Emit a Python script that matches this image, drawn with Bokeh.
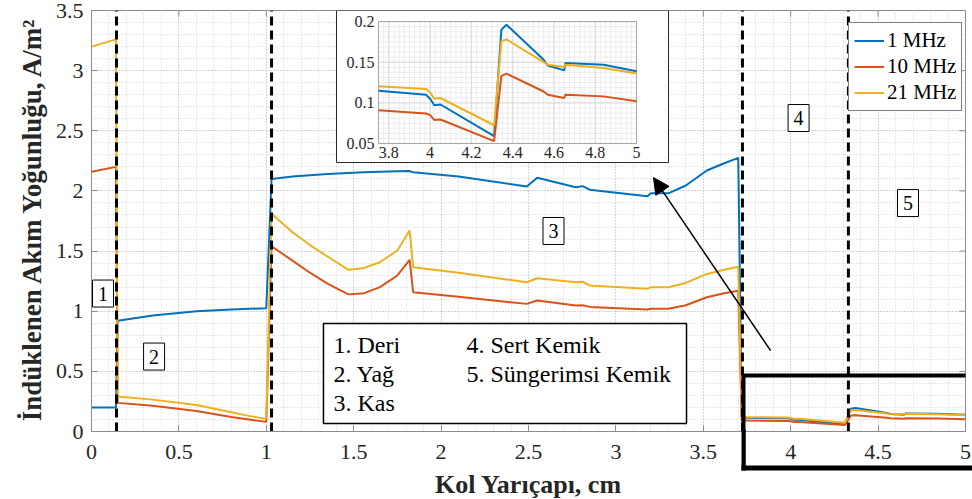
import numpy as np
from bokeh.plotting import figure
from bokeh.models import (Range1d, FixedTicker, Legend, LegendItem, Arrow, NormalHead, Label)
from bokeh.core.properties import value
from bokeh.embed import file_html
from bokeh.resources import INLINE

# ---------------- data ----------------
radius_cm = [0, 0.14, 0.15, 0.35, 0.6, 0.8, 0.9, 1.0, 1.03, 1.15, 1.25, 1.35, 1.47, 1.56,
             1.65, 1.75, 1.82, 1.84, 2.1, 2.49, 2.55, 2.77, 2.81, 2.85, 3.18, 3.2, 3.3,
             3.4, 3.52, 3.62, 3.70, 3.72, 3.75, 3.98, 4.0, 4.02, 4.05, 4.31, 4.345, 4.37,
             4.55, 4.57, 4.65, 4.655, 4.84, 5.0]
j_1mhz = [0.20, 0.20, 0.92, 0.965, 1.0, 1.015, 1.02, 1.025, 2.10, 2.12, 2.13, 2.14, 2.15, 2.155,
          2.16, 2.163, 2.165, 2.155, 2.12, 2.037, 2.11, 2.03, 2.04, 2.01, 1.955, 1.98, 1.98,
          2.045, 2.17, 2.23, 2.275, 0.12, 0.115, 0.110, 0.105, 0.097, 0.098, 0.059, 0.19, 0.196,
          0.153, 0.146, 0.140, 0.149, 0.147, 0.139]
j_10mhz = [2.16, 2.20, 0.238, 0.215, 0.17, 0.12, 0.10, 0.08, 1.54, 1.42, 1.32, 1.23, 1.14, 1.15,
           1.20, 1.297, 1.427, 1.158, 1.12, 1.061, 1.089, 1.047, 1.05, 1.036, 1.014, 1.02, 1.02,
           1.05, 1.116, 1.15, 1.17, 0.092, 0.091, 0.087, 0.085, 0.079, 0.0795, 0.053, 0.133, 0.136,
           0.114, 0.110, 0.106, 0.110, 0.108, 0.102]
j_21mhz = [3.20, 3.26, 0.29, 0.265, 0.22, 0.16, 0.13, 0.105, 1.81, 1.657, 1.55, 1.455, 1.344, 1.36,
           1.407, 1.505, 1.671, 1.366, 1.32, 1.241, 1.274, 1.24, 1.245, 1.214, 1.186, 1.2, 1.2,
           1.235, 1.31, 1.345, 1.37, 0.122, 0.1205, 0.117, 0.113, 0.105, 0.106, 0.0725, 0.176, 0.178,
           0.15, 0.147, 0.144, 0.147, 0.143, 0.136]
series = [j_1mhz, j_10mhz, j_21mhz]
series_names = ["1 MHz", "10 MHz", "21 MHz"]
colors = ["#0072BD", "#D95319", "#EDB120"]

boundaries = [0.143, 1.03, 3.724, 4.33]
region_labels = ["1", "2", "3", "4", "5"]
region_label_x = [0.066, 0.358, 2.643, 4.045, 4.671]
region_label_y = [1.147, 0.623, 1.667, 2.606, 1.899]

tissue_names_col1 = ["1. Deri", "2. Yağ", "3. Kas"]
tissue_names_col2 = ["4. Sert Kemik", "5. Süngerimsi Kemik"]

x_ticks = [0, 0.5, 1, 1.5, 2, 2.5, 3, 3.5, 4, 4.5, 5]
x_tick_labels = ["0", "0.5", "1", "1.5", "2", "2.5", "3", "3.5", "4", "4.5", "5"]
y_ticks = [0, 0.5, 1, 1.5, 2, 2.5, 3, 3.5]
y_tick_labels = ["0", "0.5", "1", "1.5", "2", "2.5", "3", "3.5"]

inset_x_lim = (3.75, 5.0)
inset_y_lim = (0.05, 0.2)
inset_x_ticks = [3.8, 4.0, 4.2, 4.4, 4.6, 4.8, 5.0]
inset_x_tick_labels = ["3.8", "4", "4.2", "4.4", "4.6", "4.8", "5"]
inset_y_ticks = [0.05, 0.1, 0.15, 0.2]
inset_y_tick_labels = ["0.05", "0.1", "0.15", "0.2"]

x_label = "Kol Yarıçapı, cm"
y_label = "İndüklenen Akım Yoğunluğu, A/m²"

# ---------------- layout constants ----------------
FONT = "Liberation Serif"
X0, X1 = 0, 5
Y0, Y1 = 0, 3.5
IN_L, IN_R, IN_B, IN_T = 1.642, 3.118, 2.394, 3.408      # inset frame (main-data coords)
BOX_L, BOX_R, BOX_B, BOX_T = 1.4016, 3.301, 2.236, 3.5   # inset outer box
TB_L, TB_R, TB_B, TB_T = 1.327, 3.404, 0.0665, 0.898     # tissue names box
HL_X, HL_TOP = 3.73, 0.4655                              # highlight box (in-frame part)
AXIS_GRAY = "#8c8c8c"

p = figure(width=972, height=499, x_range=Range1d(X0, X1), y_range=Range1d(Y0, Y1),
           output_backend="svg", toolbar_location=None,
           min_border_left=91, min_border_right=7, min_border_top=10, min_border_bottom=68)
p.background_fill_color = "white"
p.border_fill_color = "white"
p.outline_line_color = AXIS_GRAY

x_minor = [round(v, 2) for v in np.arange(0, 5.001, 0.1)]
y_minor = [round(v, 2) for v in np.arange(0, 3.501, 0.1)]

for ax, ticks, labels, minor in ((p.xaxis[0], x_ticks, x_tick_labels, x_minor),
                                 (p.yaxis[0], y_ticks, y_tick_labels, y_minor)):
    ax.ticker = FixedTicker(ticks=ticks, minor_ticks=minor)
    ax.major_label_overrides = {t: l for t, l in zip(ticks, labels)}
    ax.major_label_text_font = FONT
    ax.major_label_text_font_size = "22px"
    ax.major_label_text_color = "#262626"
    ax.axis_line_color = AXIS_GRAY
    ax.major_tick_line_color = AXIS_GRAY
    ax.major_tick_in = 6
    ax.major_tick_out = 0
    ax.minor_tick_in = 0
    ax.minor_tick_out = 0
p.xaxis[0].major_label_standoff = 13
p.yaxis[0].major_label_standoff = 8

# axis titles: canvas-positioned labels in the side panels (not clipped by the frame)
p.add_layout(Label(x=528, y=484, x_units="canvas", y_units="canvas", text=x_label,
                   text_align="center", text_baseline="middle", text_font=FONT,
                   text_font_style="bold", text_font_size="26px", text_color="#262626"), "below")
p.add_layout(Label(x=31, y=218, x_units="canvas", y_units="canvas", text=y_label,
                   angle=np.pi / 2, text_align="center", text_baseline="middle", text_font=FONT,
                   text_font_style="bold", text_font_size="27px", text_color="#262626"), "left")

for g in (p.xgrid[0], p.ygrid[0]):
    g.grid_line_color = "#bdbdbd"
    g.grid_line_dash = "1 2"
    g.minor_grid_line_color = "#d2d2d2"
    g.minor_grid_line_dash = "1 2"
p.xgrid[0].ticker = FixedTicker(ticks=x_ticks, minor_ticks=x_minor)
p.ygrid[0].ticker = FixedTicker(ticks=y_ticks, minor_ticks=y_minor)

# inward tick marks on the top and right borders (half of each dash is clipped by the frame)
p.scatter(x=x_ticks, y=[Y1] * len(x_ticks), marker="dash", size=12, angle=np.pi / 2,
          line_color=AXIS_GRAY, line_width=1)
p.scatter(x=[X1] * len(y_ticks), y=y_ticks, marker="dash", size=12,
          line_color=AXIS_GRAY, line_width=1)

# main curves
renderers = []
for ys, c in zip(series, colors):
    renderers.append(p.line(radius_cm, ys, line_color=c, line_width=2))

# tissue boundaries
p.segment(x0=boundaries, y0=[Y0] * len(boundaries), x1=boundaries, y1=[Y1] * len(boundaries),
          line_color="black", line_width=3, line_dash="9 5")

# highlight box: in-frame part (top edge + upper left edge)
p.line(x=[X1 + 0.2, HL_X, HL_X], y=[HL_TOP, HL_TOP, Y0 - 0.2], line_color="black", line_width=4)
# out-of-frame parts as filled bars in side panels (canvas pixels)
p.add_layout(Label(x=741, y=429, x_units="canvas", y_units="canvas", text=" ",
                   text_font_size="1px", anchor="top_left", padding=(2, 20),
                   background_fill_color="black", background_fill_alpha=1,
                   border_line_alpha=0), "left")
p.add_layout(Label(x=741, y=465, x_units="canvas", y_units="canvas", text=" ",
                   text_font_size="1px", anchor="top_left", padding=(117, 2),
                   background_fill_color="black", background_fill_alpha=1,
                   border_line_alpha=0), "above")

# region number boxes
p.rect(x=region_label_x, y=region_label_y, width=21, height=27, width_units="screen",
       height_units="screen", fill_color="white", line_color="black", line_width=1)
p.text(x=region_label_x, y=region_label_y, text=region_labels, text_align="center",
       text_baseline="middle", text_font=value(FONT), text_font_size="20px", text_color="black")

# tissue names box
p.quad(left=[TB_L], right=[TB_R], bottom=[TB_B], top=[TB_T], fill_color="white",
       line_color="black", line_width=1.5)
col_y = [0.715, 0.482, 0.241]
p.text(x=[1.384] * 3, y=col_y, text=tissue_names_col1, text_align="left",
       text_baseline="middle", text_font=value(FONT), text_font_size="24px", text_color="black")
p.text(x=[2.145] * 2, y=col_y[:2], text=tissue_names_col2, text_align="left",
       text_baseline="middle", text_font=value(FONT), text_font_size="24px", text_color="black")

# ---------------- inset ----------------
sx = (inset_x_lim[1] - inset_x_lim[0]) / (IN_R - IN_L)
sy = (inset_y_lim[1] - inset_y_lim[0]) / (IN_T - IN_B)
p.extra_x_ranges = {"ix": Range1d(inset_x_lim[0] - (IN_L - X0) * sx, inset_x_lim[0] + (X1 - IN_L) * sx)}
p.extra_y_ranges = {"iy": Range1d(inset_y_lim[0] - (IN_B - Y0) * sy, inset_y_lim[0] + (Y1 - IN_B) * sy)}

p.quad(left=[BOX_L], right=[BOX_R], bottom=[BOX_B], top=[BOX_T], fill_color="white",
       line_color="#262626", line_width=1)

ix_minor = [round(v, 4) for v in np.arange(inset_x_lim[0], inset_x_lim[1] + 1e-9, 0.025)]
iy_minor = [round(v, 5) for v in np.arange(inset_y_lim[0], inset_y_lim[1] + 1e-9, 0.00625)]
kw = dict(x_range_name="ix", y_range_name="iy")
p.segment(x0=ix_minor, y0=[inset_y_lim[0]] * len(ix_minor), x1=ix_minor,
          y1=[inset_y_lim[1]] * len(ix_minor), line_color="#ececec", line_width=1, **kw)
p.segment(x0=[inset_x_lim[0]] * len(iy_minor), y0=iy_minor, x1=[inset_x_lim[1]] * len(iy_minor),
          y1=iy_minor, line_color="#ececec", line_width=1, **kw)
p.segment(x0=inset_x_ticks, y0=[inset_y_lim[0]] * len(inset_x_ticks), x1=inset_x_ticks,
          y1=[inset_y_lim[1]] * len(inset_x_ticks), line_color="#dadada", line_width=1, **kw)
p.segment(x0=[inset_x_lim[0]] * len(inset_y_ticks), y0=inset_y_ticks,
          x1=[inset_x_lim[1]] * len(inset_y_ticks), y1=inset_y_ticks,
          line_color="#dadada", line_width=1, **kw)
p.quad(left=[inset_x_lim[0]], right=[inset_x_lim[1]], bottom=[inset_y_lim[0]],
       top=[inset_y_lim[1]], fill_alpha=0, line_color="#a6a6a6", line_width=1, **kw)

sel = [i for i, x in enumerate(radius_cm) if x >= inset_x_lim[0]]
xi = [radius_cm[i] for i in sel]
for ys, c in zip(series, colors):
    p.line(xi, [ys[i] for i in sel], line_color=c, line_width=2, **kw)

p.text(x=inset_x_ticks, y=[inset_y_lim[0]] * len(inset_x_ticks), text=inset_x_tick_labels,
       text_align="center", text_baseline="top", y_offset=3, text_font=value(FONT),
       text_font_size="16px", text_color="#262626", **kw)
p.text(x=[inset_x_lim[0]] * len(inset_y_ticks), y=inset_y_ticks, text=inset_y_tick_labels,
       text_align="right", text_baseline="middle", x_offset=-4, text_font=value(FONT),
       text_font_size="16px", text_color="#262626", **kw)

# arrow from zoomed region to inset
ARROW_FROM = (3.885, 0.673)
ARROW_TO = (3.215, 2.111)
p.add_layout(Arrow(end=NormalHead(size=16, fill_color="black", line_color="black"),
                   x_start=ARROW_FROM[0], y_start=ARROW_FROM[1],
                   x_end=ARROW_TO[0], y_end=ARROW_TO[1], line_color="black", line_width=1.5))

# legend
legend = Legend(items=[LegendItem(label=n, renderers=[r]) for n, r in zip(series_names, renderers)],
                location=(757, 320), label_text_font=FONT, label_text_font_size="21px",
                label_text_color="black", glyph_width=30, glyph_height=21, label_standoff=3,
                spacing=1, padding=5, margin=0, border_line_color="black", border_line_width=1,
                background_fill_color="white", background_fill_alpha=1, label_height=21)
p.add_layout(legend)

open("out.html", "w").write(file_html(p, INLINE))
